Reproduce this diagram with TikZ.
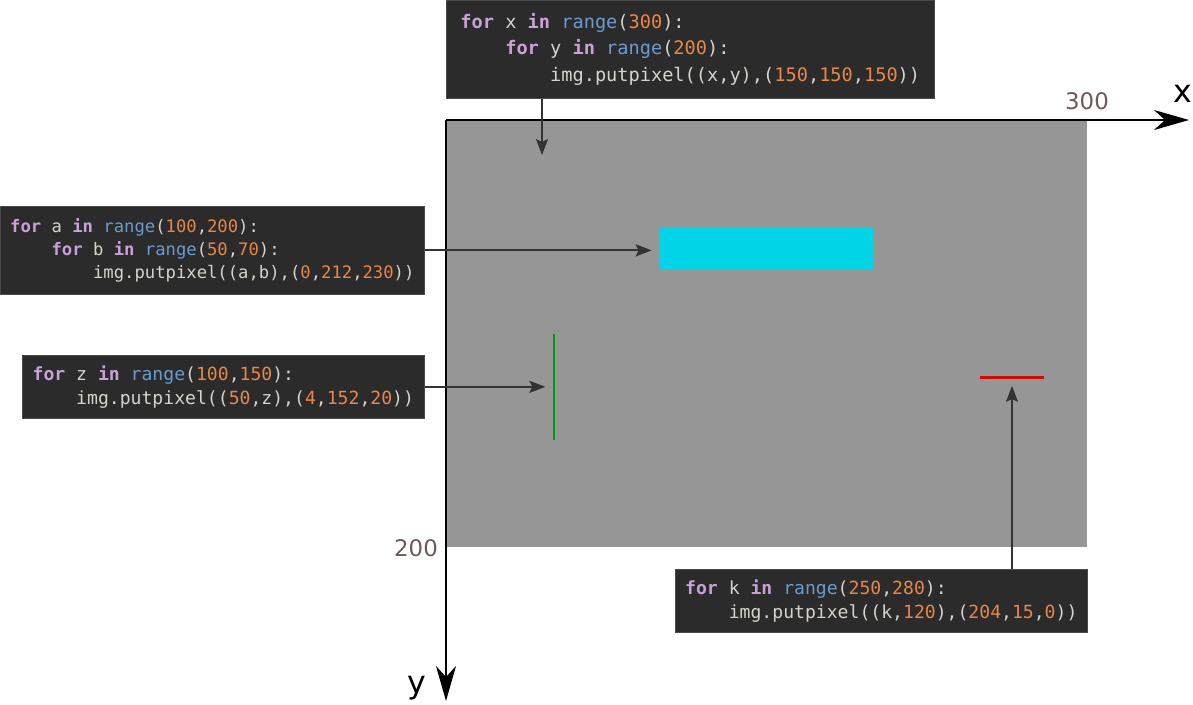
\documentclass[tikz,border=0pt]{standalone}
\usepackage{fontspec}
\setmainfont{DejaVu Sans}
\setmonofont{DejaVu Sans Mono}
\definecolor{pxBg}{HTML}{2B2B2B}
\definecolor{pxEdge}{HTML}{4A4A4A}
\definecolor{pxText}{HTML}{D6D3CC}
\definecolor{pxKey}{HTML}{C9A1D8}
\definecolor{pxFn}{HTML}{6A9BCF}
\definecolor{pxNum}{HTML}{E8874A}
\definecolor{pxGray}{RGB}{150,150,150}
\definecolor{pxCyan}{RGB}{0,212,230}
\definecolor{pxGreen}{RGB}{4,152,20}
\definecolor{pxRed}{RGB}{204,15,0}
\definecolor{pxArrow}{HTML}{333333}
\definecolor{pxTick}{HTML}{6E5A5A}
\usetikzlibrary{positioning,arrows.meta}
\newcommand{\pykw}[1]{\textcolor{pxKey}{\bfseries #1}}
\newcommand{\pyfn}[1]{\textcolor{pxFn}{#1}}
\newcommand{\pynum}[1]{\textcolor{pxNum}{#1}}
\newcommand{\pyind}{\phantom{xxxx}}
\tikzset{
  codebox/.style={fill=pxBg, draw=pxEdge, line width=0.4pt, anchor=north west,
    align=left, text=pxText, inner xsep=0.12cm, inner ysep=0pt,
    font=\ttfamily\fontsize{10.3}{13.6}\selectfont},
  ptr/.style={draw=pxArrow, line width=1.2pt,
    -{Stealth[length=0.32cm, width=0.24cm, inset=0.06cm]}},
  axis/.style={draw=black, line width=1.1pt,
    -{Stealth[length=0.7cm, width=0.4cm, inset=0.22cm]}},
  tick/.style={text=pxTick, font=\fontsize{13}{15}\selectfont, inner sep=0pt},
  axlabel/.style={text=black, font=\fontsize{18}{20}\selectfont, inner sep=0pt}
}
\begin{document}
\begin{tikzpicture}[x=0.02cm, y=-0.02cm]
  \useasboundingbox (0,0) rectangle (1193,704);
  % image area and painted pixels
  \coordinate (origin) at (446,120);
  \node[fill=pxGray, inner sep=0pt, minimum width=12.82cm, minimum height=8.54cm,
    anchor=north west] (canvas) at (origin) {};
  \node[fill=pxCyan, inner sep=0pt, minimum width=4.28cm, minimum height=0.84cm] (cyanbar) at (767,249) {};
  \node[fill=pxGreen, inner sep=0pt, minimum width=0.05cm, minimum height=2.12cm] (greenbar) at (554,387) {};
  \node[fill=pxRed, inner sep=0pt, minimum width=1.28cm, minimum height=0.06cm] (redbar) at (1012,377) {};
  % axes
  \coordinate (xend) at (1189,120);
  \coordinate (yend) at (446,701);
  \draw[axis] (origin) -- (xend);
  \draw[axis] (origin) -- (yend);
  \node[tick] (xmax) at (1087,101) {300};
  \node[tick] (ymax) at (416,548) {200};
  \node[axlabel] (xlab) at (1183,94) {x};
  \node[axlabel] (ylab) at (417,688) {y};
  % code snippets
  \node[codebox, minimum width=9.76cm, minimum height=1.96cm,
    font=\ttfamily\fontsize{10.6}{15}\selectfont] (fill) at (446,0)
    {\pykw{for} x \pykw{in} \pyfn{range}(\pynum{300}):\\
     \pyind\pykw{for} y \pykw{in} \pyfn{range}(\pynum{200}):\\
     \pyind\pyind img.putpixel((x,y),(\pynum{150},\pynum{150},\pynum{150}))};
  \node[codebox, minimum width=8.48cm, minimum height=1.76cm,
    font=\ttfamily\fontsize{9.8}{13}\selectfont] (rect) at (0,206)
    {\pykw{for} a \pykw{in} \pyfn{range}(\pynum{100},\pynum{200}):\\
     \pyind\pykw{for} b \pykw{in} \pyfn{range}(\pynum{50},\pynum{70}):\\
     \pyind\pyind img.putpixel((a,b),(\pynum{0},\pynum{212},\pynum{230}))};
  \node[codebox, minimum width=8.04cm, minimum height=1.26cm] (vline) at (22,355)
    {\pykw{for} z \pykw{in} \pyfn{range}(\pynum{100},\pynum{150}):\\
     \pyind img.putpixel((\pynum{50},z),(\pynum{4},\pynum{152},\pynum{20}))};
  \node[codebox, minimum width=8.24cm, minimum height=1.26cm] (hline) at (675,569)
    {\pykw{for} k \pykw{in} \pyfn{range}(\pynum{250},\pynum{280}):\\
     \pyind img.putpixel((k,\pynum{120}),(\pynum{204},\pynum{15},\pynum{0}))};
  % pointers
  \coordinate (filltip) at (542,155);
  \draw[ptr] (fill.south -| filltip) -- (filltip);
  \draw[ptr, shorten >=0.16cm] (rect.east) -- (rect.east -| cyanbar.west);
  \draw[ptr, shorten >=0.14cm] (vline.east) -- (vline.east -| greenbar.west);
  \draw[ptr, shorten >=0.14cm] (hline.north -| redbar) -- (redbar.south);
\end{tikzpicture}
\end{document}
